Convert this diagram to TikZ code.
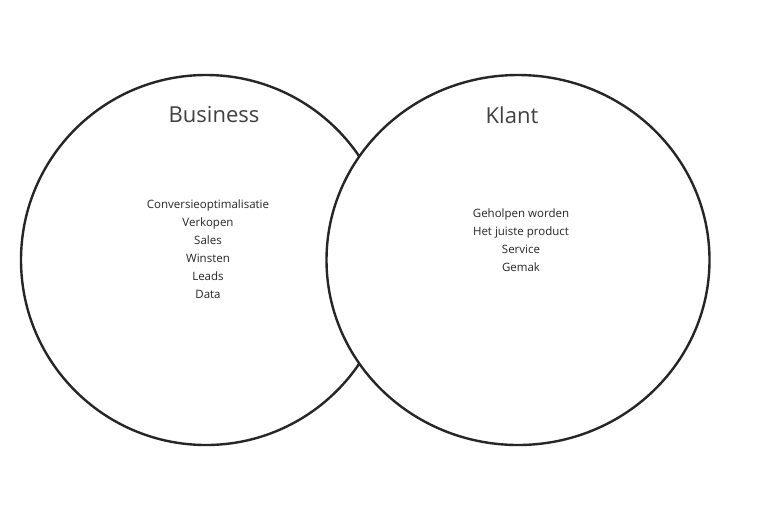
\documentclass[tikz,border=0pt]{standalone}
\usepackage{fontspec}
\usetikzlibrary{shapes.geometric}
\setmainfont{Open Sans}
\begin{document}
\begin{tikzpicture}[x=1pt,y=-1pt,
  circ/.style={draw=black!85,line width=2.4pt,fill=white},
  ttl/.style={font=\fontsize{22}{26}\selectfont,text=black!75},
  lst/.style={font=\fontsize{11.5}{18}\selectfont,align=center,text=black!85}]
\useasboundingbox (0,0) rectangle (770,504);
\node[circ,circle,minimum size=370pt,inner sep=0pt] (L) at (206,260) {};
\node[circ,ellipse,minimum width=383pt,minimum height=370pt,inner sep=0pt] (R) at (518,260) {};
\node[ttl] (bt) at (214,115) {Business};
\node[ttl] (kt) at (512,115) {Klant};
\node[lst] (bl) at (208,249) {Conversieoptimalisatie\\Verkopen\\Sales\\Winsten\\Leads\\Data};
\node[lst] (kl) at (521,240) {Geholpen worden\\Het juiste product\\Service\\Gemak};
\end{tikzpicture}
\end{document}
